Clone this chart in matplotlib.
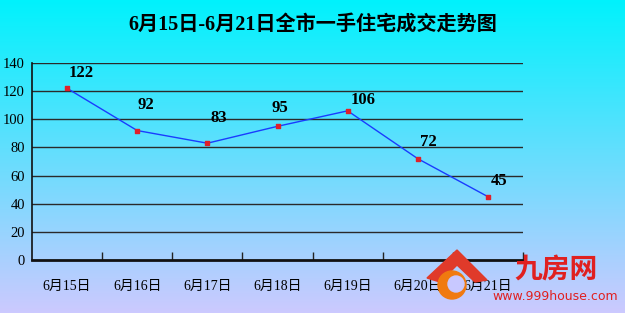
import numpy as np
import matplotlib
matplotlib.use("Agg")
import matplotlib.pyplot as plt
from matplotlib.patches import Polygon

plt.rcParams['font.family'] = ['Liberation Serif', 'Noto Sans CJK SC', 'DejaVu Sans']

title = "6月15日-6月21日全市一手住宅成交走势图"
categories = ["6月15日", "6月16日", "6月17日", "6月18日", "6月19日", "6月20日", "6月21日"]
values = [122, 92, 83, 95, 106, 72, 45]
yticks = [0, 20, 40, 60, 80, 100, 120, 140]

# label placement (pixels right, pixels above the point)
label_dx = [14, 9, 11, 2, 15, 11, 11]
label_dy = [6, 17, 16, 9, 2, 8, 7]

fig = plt.figure(figsize=(6.25, 3.13), dpi=100)

# background gradient
bg = fig.add_axes([0, 0, 1, 1], zorder=-10)
top = np.array([0.0, 0.95, 0.99])
bot = np.array([0.80, 0.79, 1.0])
t = np.linspace(0, 1, 256)[:, None]
grad = top[None, :] * (1 - t) + bot[None, :] * t
bg.imshow(grad[:, None, :], aspect='auto', extent=[0, 1, 0, 1])
bg.set_axis_off()

ax = fig.add_axes([32/625, 1 - 260/313, 491/625, 197/313])
ax.patch.set_alpha(0)
x = np.arange(len(categories)) + 0.5
ax.plot(x, values, color='#1a3cff', lw=1.0, zorder=3)
ax.scatter(x, values, marker='s', s=10, color='#e0202a', zorder=4)
for xi, v, dx, dy in zip(x, values, label_dx, label_dy):
    ax.annotate(str(v), (xi, v), xytext=(dx, dy + 1), textcoords='offset pixels',
                ha='center', va='bottom', fontsize=12, fontweight='bold')

ax.set_xlim(0, len(categories))
ax.set_ylim(0, 140)
ax.set_yticks(yticks)
ax.set_yticklabels([str(v) for v in yticks], fontsize=10.5)
for yv in yticks[1:]:
    ax.axhline(yv, color='#2a2a2a', lw=1.0, zorder=1)
ax.set_xticks(np.arange(1, len(categories) + 1))
ax.set_xticklabels([])
ax.tick_params(axis='x', direction='in', length=6, width=1, color='#222222')
ax.tick_params(axis='y', length=0, pad=5)
ax.set_xticks(x, minor=True)
ax.set_xticklabels(categories, minor=True, fontsize=10)
ax.tick_params(axis='x', which='minor', length=0, pad=14)
for s in ['top', 'right']:
    ax.spines[s].set_visible(False)
ax.spines['left'].set_color('#111111')
ax.spines['left'].set_linewidth(1.2)
ax.spines['bottom'].set_color('#111111')
ax.spines['bottom'].set_linewidth(2.0)

fig.text(0.5, 1 - 25/313, title, ha='center', va='center', fontsize=14.5,
         fontweight='bold')

# watermark
wm = fig.add_axes([0, 0, 1, 1], zorder=10)
wm.set_xlim(0, 625); wm.set_ylim(313, 0); wm.set_axis_off()
wm.add_patch(Polygon([[427, 278], [457, 250], [487, 280], [475, 282], [457, 265], [440, 282]],
                     closed=True, color='#e03a2a'))
wm.add_patch(plt.Circle((452, 285), 14, color='#f07a10'))
wm.add_patch(plt.Circle((456, 284), 8, color='#c8c8ff'))
wm.text(556, 270, "九房网", color='#e02020', fontsize=20, fontweight='bold',
        ha='center', va='center', family=['Noto Sans CJK SC'])
wm.text(555, 297, "www.999house.com", color='#e02020', fontsize=9,
        ha='center', va='center', family=['DejaVu Sans'])

fig.savefig("out.png", dpi=100)
